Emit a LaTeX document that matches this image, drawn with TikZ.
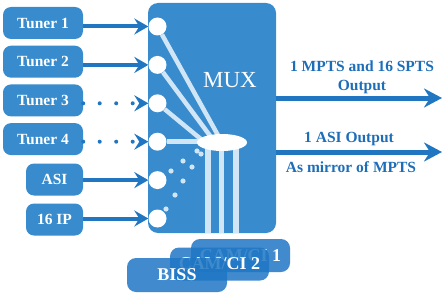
\documentclass[tikz,border=0pt]{standalone}
\usepackage{fontspec}
\setmainfont{Liberation Serif}
\usetikzlibrary{shapes.geometric, arrows.meta, positioning}
\definecolor{muxblue}{RGB}{56,140,205}
\definecolor{tipblue}{RGB}{32,118,192}
\definecolor{labelblue}{RGB}{28,110,185}
\definecolor{paleblue}{RGB}{208,229,246}
\definecolor{camblue}{RGB}{30,118,196}
\tikzstyle{source} = [rectangle, rounded corners=8pt, minimum width=80pt, minimum height=32pt, inner sep=0pt, text centered, fill=muxblue, text=white, font=\fontsize{15.5}{18}\selectfont\bfseries]
\tikzstyle{port} = [circle, minimum size=18pt, inner sep=0pt, fill=white]
\tikzstyle{card} = [rectangle, rounded corners=9pt, minimum width=99pt, minimum height=33pt, inner sep=0pt, fill=camblue, fill opacity=0.85, text opacity=1, text=white, font=\fontsize{18}{20}\selectfont\bfseries]
\tikzstyle{feed} = [line width=4pt, draw=tipblue, -{Stealth[length=14pt, width=16pt, inset=5pt]}]
\tikzstyle{feedgap} = [feed, line cap=round, dash pattern=on 0pt off 16.5pt]
\tikzstyle{output} = [line width=5pt, draw=tipblue, -{Stealth[length=18pt, width=19pt, inset=6pt]}]
\tikzstyle{bus} = [line width=4.5pt, draw=paleblue]
\tikzstyle{outtext} = [text=labelblue, align=center, font=\fontsize{15.5}{19}\selectfont\bfseries]

\begin{document}
\begin{tikzpicture}[x=1pt, y=-1pt, node distance=38.7pt]
        \useasboundingbox (0,0) rectangle (446,302);
        \node (mux) [rectangle, rounded corners=10pt, minimum width=128pt, minimum height=230pt, fill=muxblue] at (212,118) {};
        \node (muxtext) [text=white, font=\fontsize{23}{26}\selectfont] at (230,80) {MUX};

        \node (t1) [source] at (43,23) {Tuner 1};
        \node (t2) [source, below of=t1] {Tuner 2};
        \node (t3) [source, below of=t2] {Tuner 3};
        \node (t4) [source, below of=t3] {Tuner 4};
        \node (asi) [source, minimum width=57pt] at (54.5,179.5) {ASI};
        \node (ip) [source, minimum width=57pt, below of=asi, node distance=40pt] {16 IP};

        \node (in1) [port] at (157.5,26.5) {};
        \node (in2) [port, below of=in1, node distance=38.4pt] {};
        \node (in3) [port, below of=in2, node distance=38.4pt] {};
        \node (in4) [port, below of=in3, node distance=38.4pt] {};
        \node (in5) [port, below of=in4, node distance=38.4pt] {};
        \node (in6) [port, below of=in5, node distance=38.4pt] {};

        \coordinate (hub) at (222,142.5);
        \foreach \dx in {-14,-0.5,14}
            \draw [bus, line width=5.5pt] ([xshift=\dx pt]hub) -- ([xshift=\dx pt]hub |- mux.south);
        \draw [bus] (in1) -- (hub);
        \draw [bus] (in2) -- ([xshift=-7pt]hub);
        \draw [bus] (in3) -- ([xshift=-17pt]hub);
        \draw [bus] (in4) -- (in4 -| hub);
        \node (merge) [ellipse, fill=white, minimum width=50pt, minimum height=17pt, inner sep=0pt] at (hub) {};
        \foreach \p in {(197,151),(201,154),(183,161),(192,167),(171,171),(183,181),(175,195),(166,209)}
            \fill [paleblue] \p circle (2.6pt);

        \draw [feed] (t1.east |- in1) -- (in1);
        \draw [feed] (t2.east |- in2) -- (in2);
        \draw [feedgap] (t3.east |- in3) -- (in3);
        \draw [feedgap] (t4.east |- in4) -- (in4);
        \draw [feed] (asi.east |- in5) -- (in5);
        \draw [feed] (ip.east |- in6) -- (in6);

        \coordinate (mpts) at (442,98);
        \coordinate (asiout) at (442,152);
        \draw [output] (mpts -| mux.east) -- (mpts);
        \draw [output] (asiout -| mux.east) -- (asiout);
        \node (mptstext) [outtext] at (362,77.5) {1 MPTS and 16 SPTS\\Output};
        \node (asitext) [outtext] at (349,139.5) {1 ASI Output};
        \node (mirrortext) [outtext] at (351,167) {As mirror of MPTS};

        \node (cam1) [card] at (240.5,255.5) {CAM/CI 1};
        \node (cam2) [card] at (219.5,264) {CAM/CI 2};
        \node (biss) [card, minimum width=100pt, minimum height=34pt] at (177,275) {BISS};
\end{tikzpicture}
\end{document}
